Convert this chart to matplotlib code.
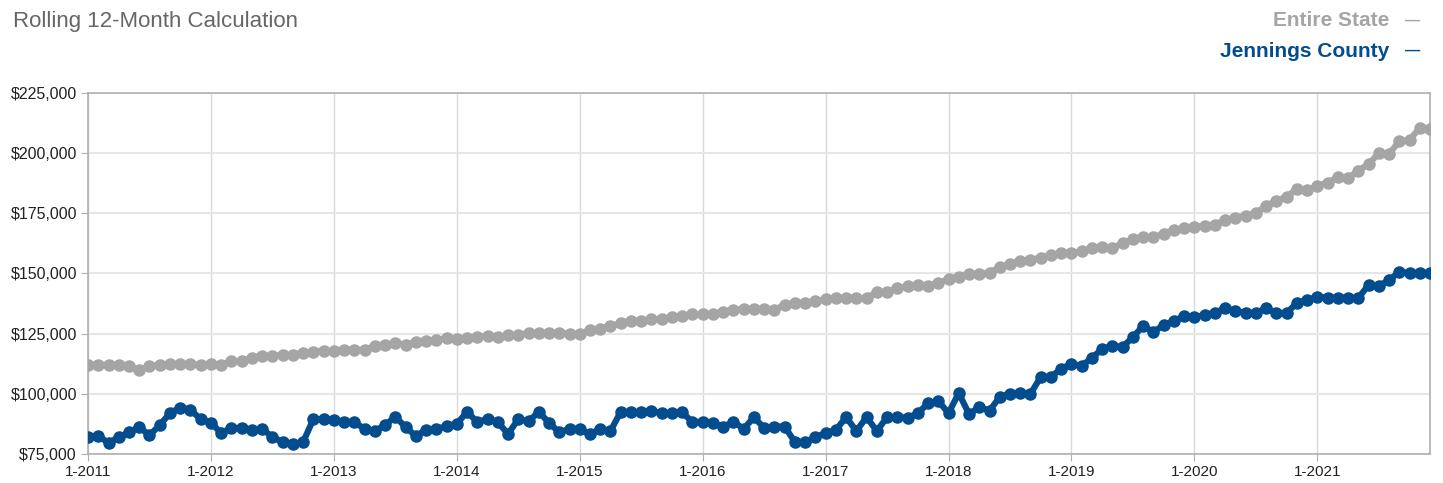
import numpy as np
import matplotlib
matplotlib.use("Agg")
from matplotlib import pyplot as plt

# monthly rolling 12-month values, Jan 2011 .. Dec 2021 (in $1000s)
state = [
    112, 112, 112, 112, 111.4, 110, 111.5, 112, 112.3, 112.5, 112.3, 112,
    112.3, 112, 113.5, 113.5, 115, 115.8, 115.8, 116.2, 116.2, 117, 117.5, 118,
    117.7, 118.3, 118.3, 118.3, 120, 120.5, 121, 120.5, 121.5, 122, 122.5, 123,
    122.8, 123.2, 123.7, 124, 123.5, 124.3, 124.6, 125.2, 125.2, 125.2, 125.2, 125,
    125, 126.5, 127, 128.3, 129.3, 130.4, 130.4, 131, 131, 131.9, 132.3, 133.2,
    133, 133, 134.2, 134.8, 135.2, 135.2, 135.2, 134.8, 137.1, 137.8, 137.8, 138.5,
    139.2, 139.9, 139.9, 139.9, 139.7, 142.4, 142.4, 143.8, 144.8, 145.2, 144.8, 146.2,
    147.6, 148.7, 149.8, 149.8, 150.4, 152.6, 153.8, 155.4, 155.6, 156.6, 157.6, 158.5,
    158.5, 159.2, 160.6, 161, 160.6, 162.6, 164.4, 165.1, 165.1, 166.5, 168.1, 168.8,
    169.5, 169.9, 170.3, 172.3, 173.1, 174, 175, 178.2, 180.2, 181.9, 185.1, 184.7,
    186.4, 187.8, 189.9, 189.7, 192.7, 195.5, 199.9, 199.7, 204.9, 205.5, 210.5, 210.1,
]
county = [
    82.1, 82.6, 79.6, 82, 84, 86.2, 82.8, 87, 92, 94.3, 93.3, 89.5,
    88, 83.7, 85.8, 85.8, 85, 85.5, 82, 80, 79, 80, 89.5, 89.5,
    89, 88.3, 88.3, 85.4, 84.6, 87, 90.5, 86.2, 82.5, 85, 85.4, 86.6,
    87.5, 92.5, 88.3, 89.5, 88.3, 83.3, 89.5, 88.6, 92.5, 88, 84, 85.4,
    85.4, 83.3, 85.4, 84.6, 92.5, 92.5, 92.3, 92.9, 92, 92, 92.3, 88.3,
    88.3, 88, 86.2, 88.5, 85.4, 90.3, 85.8, 86.4, 86.4, 80, 79.8, 82,
    83.7, 85, 90.3, 84.6, 90.3, 84.6, 90.3, 90.3, 90, 92, 96, 97,
    92, 100.3, 91.6, 94.5, 93, 98.7, 100, 100.3, 100, 107, 107, 110.5,
    112.4, 111.6, 115, 118.6, 120, 119.5, 123.6, 128.2, 125.7, 128.6, 130.3, 132.3,
    131.9, 132.7, 133.6, 135.6, 134.4, 133.6, 133.6, 135.6, 133.6, 133.6, 137.7, 139,
    140.3, 140, 140, 140, 139.8, 145.2, 144.8, 147.3, 150.6, 150.2, 150.2, 150.2,
]
years = list(range(2011, 2022))
yticks = [75, 100, 125, 150, 175, 200, 225]

gray = "#a5a5a5"
blue = "#034d8e"

plt.rcParams['font.family'] = ['Liberation Sans', 'DejaVu Sans']

fig = plt.figure(figsize=(14.43, 4.83), dpi=100)
ax = fig.add_axes([0.061, 0.06, 0.930, 0.7475])

x = np.arange(len(state))
ax.plot(x, np.array(state) * 1000, color=gray, lw=4.5, marker="o", ms=8,
        solid_capstyle="round", zorder=3)
ax.plot(x, np.array(county) * 1000, color=blue, lw=4.5, marker="o", ms=8,
        solid_capstyle="round", zorder=4)

ax.set_xlim(0, len(state) - 1)
ax.set_ylim(75000, 225000)
ax.set_xticks([12 * k for k in range(len(years))])
ax.set_xticklabels(["1-%d" % y for y in years], fontsize=11)
ax.set_yticks([v * 1000 for v in yticks])
ax.set_yticklabels(["${:,}".format(v * 1000) for v in yticks], fontsize=11.5)

ax.grid(axis="x", color="#d9d9d9", lw=1)
ax.grid(axis="y", color="#e6e6e6", lw=1.5)
ax.set_axisbelow(True)
for s in ax.spines.values():
    s.set_color("#b0b0b0")
    s.set_linewidth(1.2)
ax.tick_params(axis="both", length=5, color="#b0b0b0", labelcolor="#222222")
ax.tick_params(axis="x", pad=3)
ax.tick_params(axis="y", pad=3)

fig.text(0.009, 0.955, "Rolling 12-Month Calculation", fontsize=16,
         color="#666666", family=["Liberation Sans Narrow", "Liberation Sans"],
         va="center", ha="left")
fig.text(0.963, 0.958, "Entire State", fontsize=15, fontweight="bold",
         color=gray, ha="right", va="center")
fig.text(0.984, 0.958, "\u2014", fontsize=11, fontweight="bold",
         color=gray, ha="right", va="center")
fig.text(0.963, 0.894, "Jennings County", fontsize=15, fontweight="bold",
         color=blue, ha="right", va="center")
fig.text(0.984, 0.894, "\u2014", fontsize=11, fontweight="bold",
         color=blue, ha="right", va="center")

fig.savefig("out.png", dpi=100)
